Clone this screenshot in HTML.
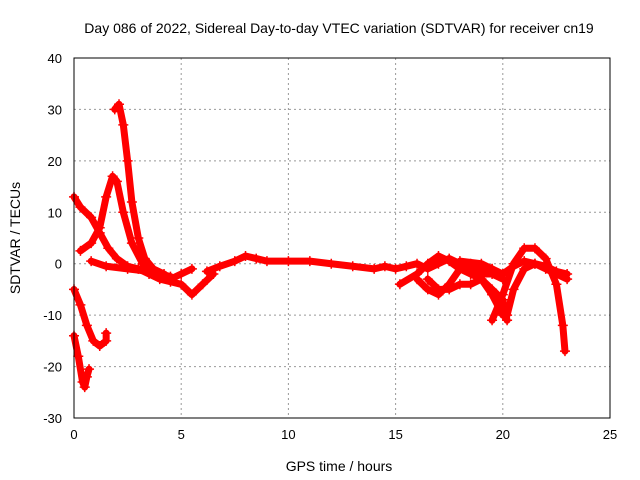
<!DOCTYPE html>
<html><head><meta charset="utf-8"><style>
body{margin:0;background:#fff;}
svg{display:block;font-family:"Liberation Sans",sans-serif;}
</style></head><body>
<svg id="chart" width="640" height="480">
<text x="339" y="33" font-size="14" text-anchor="middle">Day 086 of 2022, Sidereal Day-to-day VTEC variation (SDTVAR) for receiver cn19</text>
<text x="339" y="471" font-size="14" text-anchor="middle">GPS time / hours</text>
<text transform="translate(20,238) rotate(-90)" font-size="14" text-anchor="middle">SDTVAR / TECUs</text>
<g id="grid"></g><g id="marks"></g>
<rect x="74" y="58" width="536" height="360" fill="none" stroke="#000"/>
</svg>
<script>
const xTicks=[0,5,10,15,20,25];
const yTicks=[-30,-20,-10,0,10,20,30,40];
const trackA_t=[0,0.3,0.8,1.2,1.6,2.0,2.5,3,3.5,4,4.5,5,5.5,6,6.5];
const trackA_v=[13,11,9,6,3,1,-0.5,-1,-2,-3,-3.5,-4,-6,-4,-2];
const trackB_t=[0,0.3,0.6,0.9,1.2,1.5,1.5];
const trackB_v=[-5,-8,-12,-15,-16,-15,-13.5];
const trackC_t=[0,0.2,0.4,0.5,0.6,0.7];
const trackC_v=[-14,-18,-23,-24,-22,-20.5];
const trackD_t=[0.3,0.8,1.2,1.5,1.8,2.0,2.3,2.7,3.2,3.8,4.3];
const trackD_v=[2.5,4,7,13,17,16,10,4,0,-2,-2.5];
const trackE_t=[1.9,2.1,2.3,2.5,2.7,3,3.3,3.7,4.2,4.5,5,5.5];
const trackE_v=[30,31,27,20,12,5,1,-1,-2,-3,-2,-1];
const trackF_t=[0.8,1.5,2.5,3.5,4.5];
const trackF_v=[0.5,-0.5,-1,-1.5,-2.5];
const trackG_t=[6.2,6.8,7.5,8,8.5,9,10,11,12,13,14,14.5,15,15.5,16,16.5,17,17.5,18,18.5,19,19.5,20];
const trackG_v=[-1.5,-0.5,0.5,1.5,1,0.5,0.5,0.5,0,-0.5,-1,-0.5,-1,-0.5,0,-1,0,1,0,-1,-2,-2,-3];
const trackH_t=[15.2,16,16.5,17,17.5,18,18.5,19,19.5,20];
const trackH_v=[-4,-2,0,1.5,0.5,-1,-2,-3,-6,-10];
const trackI_t=[16,16.5,17,17.5,18,18.5,19,19.5];
const trackI_v=[-3,-5,-6,-4,-1,0,-1,-1];
const trackJ_t=[16.5,17,17.5,18,18.5,19,19.5,20,20.2];
const trackJ_v=[-3,-5,-5,-4,-4,-3,-5,-7,-11];
const trackK_t=[18,19,19.5,20,20.5,21,21.5,22,22.5,23];
const trackK_v=[0.5,0,-1,-2,-0.5,0.5,0,-0.5,-1.5,-2];
const trackL_t=[19.5,20,20.5,21,21.5,22,22.5,22.8,22.9];
const trackL_v=[-11,-6,0,3,3,1,-4,-12,-17];
const trackM_t=[20.2,20.5,21,21.5,22,22.5,23];
const trackM_v=[-10,-5,-1,0,-1,-2,-3];
const tracks=[[trackA_t,trackA_v],[trackB_t,trackB_v],[trackC_t,trackC_v],[trackD_t,trackD_v],[trackE_t,trackE_v],[trackF_t,trackF_v],[trackG_t,trackG_v],[trackH_t,trackH_v],[trackI_t,trackI_v],[trackJ_t,trackJ_v],[trackK_t,trackK_v],[trackL_t,trackL_v],[trackM_t,trackM_v]];
const NS="http://www.w3.org/2000/svg";
const X0=74,X1=610,Y0=418,Y1=58;
function sx(t){return X0+(t-0)/(25-0)*(X1-X0);}
function sy(v){return Y0-(v+30)/70*(Y0-Y1);}
const grid=document.getElementById('grid'),marks=document.getElementById('marks');
function mk(tag,attrs,parent){const e=document.createElementNS(NS,tag);for(const k in attrs)e.setAttribute(k,attrs[k]);parent.appendChild(e);return e;}
xTicks.forEach(t=>{
  const x=sx(t);
  if(t>0&&t<25){const g=mk('line',{x1:x,x2:x,y1:Y1,y2:Y0,stroke:'#999','stroke-dasharray':'2,3'},grid);
  
  }
  const l=mk('text',{x:x,y:Y0+21,'font-size':13,'text-anchor':'middle'},grid);l.textContent=t;
  
  
});
yTicks.forEach(v=>{
  const y=sy(v);
  if(v>-30&&v<40){const g=mk('line',{x1:X0,x2:X1,y1:y,y2:y,stroke:'#999','stroke-dasharray':'2,3'},grid);
  
  }
  const l=mk('text',{x:X0-12,y:y+5,'font-size':13,'text-anchor':'end'},grid);l.textContent=v;
  
  
});
tracks.forEach(([ts,vs],i)=>{
  const pts=ts.map((t,j)=>sx(t)+','+sy(vs[j])).join(' ');
  const p=mk('polyline',{points:pts,fill:'none',stroke:'#f00','stroke-width':7,'stroke-linejoin':'round','stroke-linecap':'round'},marks);
  
  
  ts.forEach((t,j)=>{
    const x=sx(t),y=sy(vs[j]);
    const m=mk('path',{d:`M${x-5},${y}H${x+5}M${x},${y-5}V${y+5}`,stroke:'#f00','stroke-width':1.5},marks);
    
    
  });
});
</script>
</body></html>
